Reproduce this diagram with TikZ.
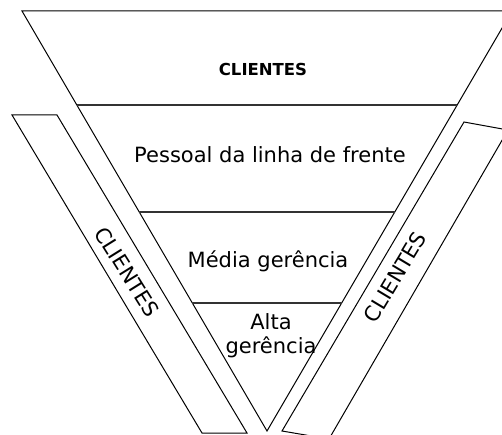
\documentclass[tikz,border=0pt]{standalone}
\usepackage{fontspec}
\setmainfont{DejaVu Sans}
\usetikzlibrary{calc}

\begin{document}
\begin{tikzpicture}[x=1pt, y=-1pt]
		\useasboundingbox (0,0) rectangle (502,435);
		\clip (0,0) rectangle (502,435);
		
		\def\first{0.224};
		\def\second{0.479};
		\def\third{0.695};
		
		\coordinate (apex) at (267,431);
		\coordinate (top left corner) at (22,11);
		\coordinate (top right corner) at (512,11);
		
		\tikzset{layer line/.style = {line width = 1.8pt, black!80}, layer text/.style = {font = \fontsize{21}{24}\selectfont}}
		
		%pyramid
		\draw [line width = 1pt] (top left corner) -- (apex) -- (top right corner) -- cycle;
		
		\draw [layer line] ($ (top left corner)!\first!(apex) $) -- ($ (top right corner)!\first!(apex) $);
		\draw [layer line] ($ (top left corner)!\second!(apex) $) -- ($ (top right corner)!\second!(apex) $);
		\draw [layer line] ($ (top left corner)!\third!(apex) $) -- ($ (top right corner)!\third!(apex) $);
		
		%side bands
		\draw [line width = 1pt] (12,115) -- (57,115) -- (247,433) -- (202,433) -- cycle;
		\draw [line width = 1pt] (464,122) -- (508,130) -- (329,439) -- (282,431) -- cycle;
		
		%labels
		\node [font = \bfseries\fontsize{16.5}{19}\selectfont] (customers top) at (263,69) {CLIENTES};
		\node [layer text] (front line) at (270,155) {Pessoal da linha de frente};
		\node [layer text] (middle management) at (268,261) {Média gerência};
		\node [layer text, align = center, inner sep = 1pt] (top management) at (271,336) {Alta\\gerência};
		
		\node [font = \fontsize{21}{24}\selectfont, rotate = -58] (customers left) at (127,272) {CLIENTES};
		\node [font = \fontsize{21}{24}\selectfont, rotate = 59] (customers right) at (395,277) {CLIENTES};
	\end{tikzpicture}
\end{document}
